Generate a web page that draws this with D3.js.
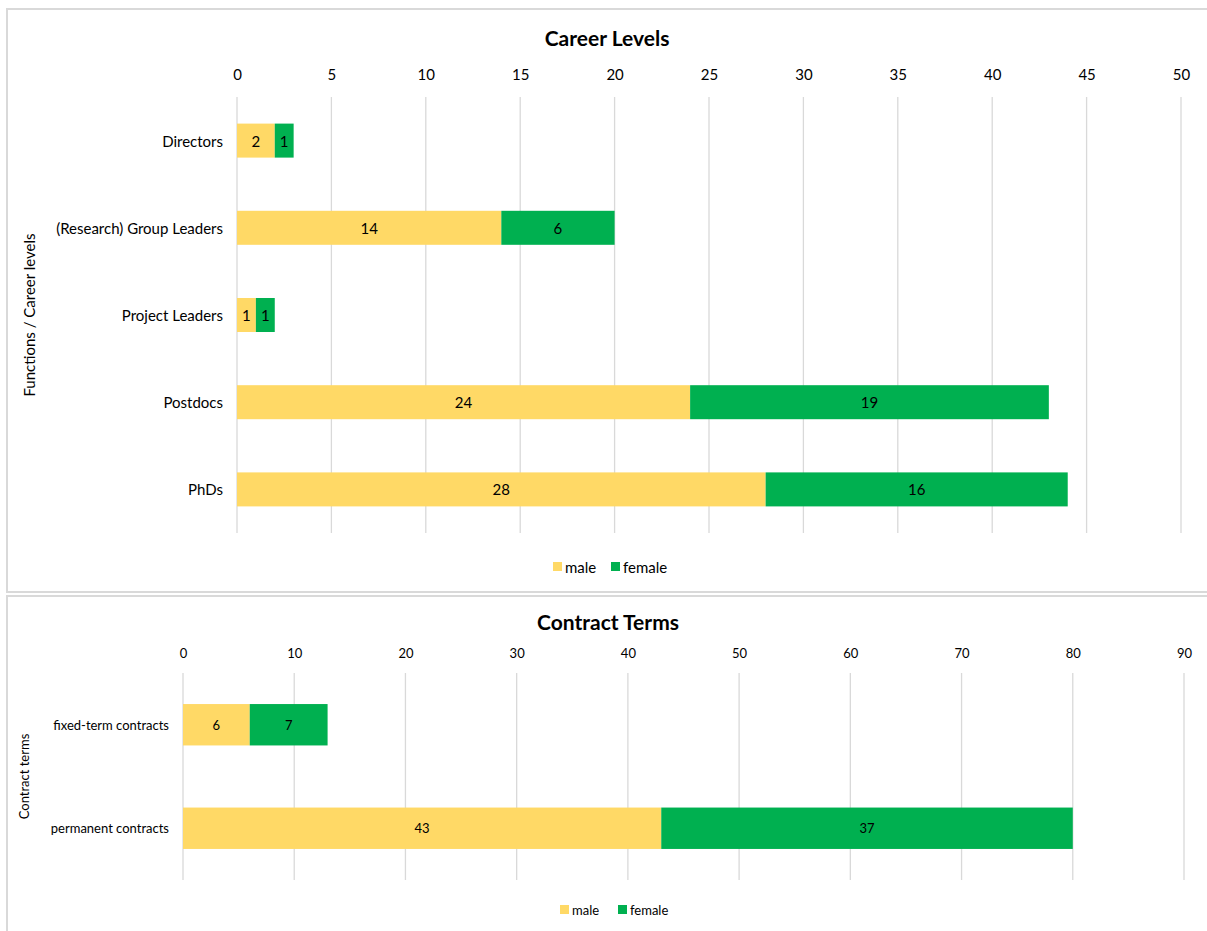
<!DOCTYPE html>
<html>
<head>
<meta charset="utf-8">
<script src="https://cdn.jsdelivr.net/npm/d3@7"></script>
<style>
  body { margin: 0; background: #fff; }
  svg { font-family: Lato, "Open Sans", sans-serif; }
</style>
</head>
<body>
<div id="chart"></div>
<script>
// career levels
var careerCats = ["Directors", "(Research) Group Leaders", "Project Leaders", "Postdocs", "PhDs"];
var careerMale = [2, 14, 1, 24, 28];
var careerFemale = [1, 6, 1, 19, 16];
var careerTicks = [0, 5, 10, 15, 20, 25, 30, 35, 40, 45, 50];

// contract terms
var contractCats = ["fixed-term contracts", "permanent contracts"];
var contractMale = [6, 43];
var contractFemale = [7, 37];
var contractTicks = [0, 10, 20, 30, 40, 50, 60, 70, 80, 90];

var seriesNames = ["male", "female"];
var colors = ["#FFD966", "#00B050"];

var svg = d3.select("#chart").append("svg")
	.attr("width", 1207)
	.attr("height", 931);

function drawChart(cfg) {
	var g = svg.append("g");

	g.append("rect")
		.attr("x", cfg.box[0]).attr("y", cfg.box[1])
		.attr("width", cfg.box[2]).attr("height", cfg.box[3])
		.attr("fill", "#fff")
		.attr("stroke", "#d9d9d9")
		.attr("stroke-width", 2);

	var x = d3.scaleLinear()
		.domain([0, cfg.ticks[cfg.ticks.length - 1]])
		.range([cfg.x0, cfg.x1]);

	var y = d3.scaleBand()
		.domain(cfg.cats)
		.range([cfg.y0, cfg.y1])
		.paddingInner(cfg.pad)
		.paddingOuter(cfg.pad / 2);

	// gridlines
	g.append("g").selectAll("line")
		.data(cfg.ticks)
		.enter().append("line")
			.attr("x1", d => x(d)).attr("x2", d => x(d))
			.attr("y1", cfg.y0).attr("y2", cfg.y1)
			.attr("stroke", "#d9d9d9")
			.attr("stroke-width", 1.3);

	// top axis labels
	var axis = g.append("g")
		.attr("transform", "translate(0," + cfg.tickY + ")")
		.call(d3.axisTop(x).tickValues(cfg.ticks).tickSize(0).tickPadding(0));
	axis.select(".domain").remove();
	axis.selectAll("text")
		.attr("font-family", "Lato, 'Open Sans', sans-serif")
		.attr("font-size", cfg.tickFont)
		.attr("fill", "#000");

	// stacked bars
	var rows = cfg.cats.map((c, i) => ({cat: c, male: cfg.male[i], female: cfg.female[i]}));
	var stacked = d3.stack().keys(seriesNames)(rows);

	stacked.forEach((layer, si) => {
		var lg = g.append("g");
		lg.selectAll("rect")
			.data(layer)
			.enter().append("rect")
				.attr("x", d => x(d[0]))
				.attr("y", d => y(d.data.cat))
				.attr("width", d => x(d[1]) - x(d[0]))
				.attr("height", y.bandwidth())
				.attr("fill", colors[si]);
		lg.selectAll("text")
			.data(layer)
			.enter().append("text")
				.attr("x", d => (x(d[0]) + x(d[1])) / 2)
				.attr("y", d => y(d.data.cat) + y.bandwidth() / 2)
				.attr("text-anchor", "middle")
				.attr("dominant-baseline", "central")
				.attr("font-size", cfg.valFont)
				.attr("fill", "#000")
				.text(d => d[1] - d[0]);
	});

	// category labels
	g.append("g").selectAll("text")
		.data(cfg.cats)
		.enter().append("text")
			.attr("x", cfg.x0 - 14)
			.attr("y", d => y(d) + y.bandwidth() / 2)
			.attr("text-anchor", "end")
			.attr("dominant-baseline", "central")
			.attr("font-size", cfg.catFont)
			.attr("fill", "#000")
			.text(d => d);

	// title
	g.append("text")
		.attr("x", cfg.titleX).attr("y", cfg.titleY)
		.attr("text-anchor", "middle")
		.attr("dominant-baseline", "central")
		.attr("font-size", 21)
		.attr("font-weight", "bold")
		.attr("fill", "#000")
		.text(cfg.title);

	// y axis title
	g.append("text")
		.attr("transform", "translate(" + cfg.yTitleX + "," + ((cfg.y0 + cfg.y1) / 2) + ") rotate(-90)")
		.attr("text-anchor", "middle")
		.attr("dominant-baseline", "central")
		.attr("font-size", cfg.catFont)
		.attr("fill", "#000")
		.text(cfg.yTitle);

	// legend
	var leg = g.append("g").attr("transform", "translate(" + cfg.legX + "," + cfg.legY + ")");
	var offs = [0, 58];
	seriesNames.forEach((s, i) => {
		leg.append("rect")
			.attr("x", offs[i]).attr("y", -5)
			.attr("width", 9).attr("height", 9)
			.attr("fill", colors[i]);
		leg.append("text")
			.attr("x", offs[i] + 12).attr("y", 0)
			.attr("dominant-baseline", "central")
			.attr("font-size", cfg.legFont)
			.attr("fill", "#000")
			.text(s);
	});
}

drawChart({
	box: [7, 9, 1210, 583],
	title: "Career Levels", titleX: 607, titleY: 37,
	yTitle: "Functions / Career levels", yTitleX: 29,
	cats: careerCats, male: careerMale, female: careerFemale, ticks: careerTicks,
	x0: 237, x1: 1181, y0: 97, y1: 533, pad: 0.61,
	tickY: 80, tickFont: 15, valFont: 15, catFont: 15, legFont: 15,
	legX: 553, legY: 567
});

drawChart({
	box: [7, 596, 1210, 345],
	title: "Contract Terms", titleX: 608, titleY: 621,
	yTitle: "Contract terms", yTitleX: 24,
	cats: contractCats, male: contractMale, female: contractFemale, ticks: contractTicks,
	x0: 183, x1: 1184, y0: 673, y1: 880, pad: 0.6,
	tickY: 658, tickFont: 13, valFont: 13, catFont: 13, legFont: 13,
	legX: 560, legY: 910
});
</script>
</body>
</html>
